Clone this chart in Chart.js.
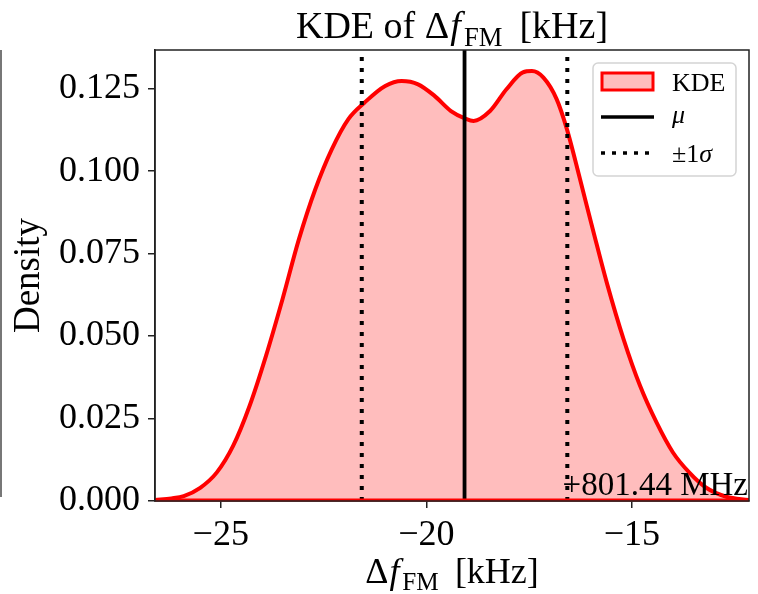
<!DOCTYPE html>
<html>
<head>
<meta charset="utf-8">
<script src="https://cdn.jsdelivr.net/npm/chart.js@4.4.1/dist/chart.umd.min.js"></script>
<style>
  html, body { margin: 0; padding: 0; background: #fff; }
  #contenedor { width: 758px; height: 594px; }
</style>
</head>
<body>
<div id="contenedor"><canvas id="grafico"></canvas></div>
<script>
// valores (kHz, relativos a 801.44 MHz)
const frecuencias = [-26.6, -26.2, -25.9, -25.5, -25.1, -24.7, -24.3, -23.9, -23.5, -23.1, -22.7, -22.3,
  -21.9, -21.5, -21.0, -20.6, -20.2, -19.8, -19.4, -19.05, -18.85, -18.45, -18.05, -17.65, -17.43,
  -17.15, -16.83, -16.58, -16.26, -15.93, -15.61, -15.2, -14.8, -14.4, -14.0, -13.6, -13.2, -12.7, -12.15];
const densidades = [0.0003, 0.0008, 0.0015, 0.004, 0.0086, 0.0167, 0.0288, 0.044, 0.0611, 0.0793, 0.0945, 0.1066,
  0.1157, 0.1208, 0.1258, 0.1273, 0.1263, 0.1228, 0.1182, 0.1159, 0.1152, 0.1182, 0.1248, 0.1299, 0.1303,
  0.1283, 0.1218, 0.1127, 0.0975, 0.0814, 0.0662, 0.049, 0.0349, 0.0238, 0.0147, 0.0086, 0.0041, 0.0013, 0.0003];
const media = -19.07;
const sigma = 2.5;
const ticksX = [-25, -20, -15];
const ticksY = [0, 0.025, 0.05, 0.075, 0.1, 0.125];
const limitesX = [-26.6, -12.15];
const limitesY = [0, 0.1367];
const textoOffset = "+801.44 MHz";

const FUENTE = "'Liberation Serif', 'DejaVu Serif', serif";

function lineaVertical(x) {
  return [{ x: x, y: limitesY[0] }, { x: x, y: limitesY[1] }];
}

// texto tipo latex: Δ f_FM [kHz]
function dibujarSegmentos(ctx, segmentos, cx, base, size) {
  let total = 0;
  const medidas = segmentos.map(function (s) {
    const tam = s.sub ? size * 0.7 : size;
    ctx.font = (s.italic ? "italic " : "") + tam + "px " + FUENTE;
    const w = ctx.measureText(s.t).width + (s.gap || 0) * size;
    total += w;
    return w;
  });
  let x = cx - total / 2;
  ctx.textAlign = "left";
  ctx.textBaseline = "alphabetic";
  segmentos.forEach(function (s, i) {
    const tam = s.sub ? size * 0.7 : size;
    ctx.font = (s.italic ? "italic " : "") + tam + "px " + FUENTE;
    ctx.fillText(s.t, x + (s.gap || 0) * size, base + (s.sub ? size * 0.2 : 0));
    x += medidas[i];
  });
}

const etiquetaDelta = [
  { t: "\u0394" },
  { t: "f", italic: true, gap: 0.03 },
  { t: "FM", sub: true, gap: 0.08 },
  { t: "[kHz]", gap: 0.45 },
];

function dibujarLeyenda(ctx, area) {
  const w = 143, h = 113;
  const x0 = area.right - 13 - w;
  const y0 = area.top + 13;
  ctx.save();
  ctx.fillStyle = "rgba(255,255,255,0.8)";
  ctx.strokeStyle = "#d4d4d4";
  ctx.lineWidth = 1.5;
  ctx.beginPath();
  ctx.roundRect(x0, y0, w, h, 5);
  ctx.fill();
  ctx.stroke();

  // KDE (parche)
  ctx.fillStyle = "rgba(255,0,0,0.26)";
  ctx.fillRect(x0 + 9, y0 + 10, 51, 17);
  ctx.strokeStyle = "red";
  ctx.lineWidth = 3;
  ctx.strokeRect(x0 + 9, y0 + 10, 51, 17);

  // mu
  ctx.strokeStyle = "black";
  ctx.lineWidth = 3.5;
  ctx.beginPath();
  ctx.moveTo(x0 + 8, y0 + 54);
  ctx.lineTo(x0 + 61, y0 + 54);
  ctx.stroke();

  // sigma
  ctx.setLineDash([4, 7]);
  ctx.beginPath();
  ctx.moveTo(x0 + 8, y0 + 90);
  ctx.lineTo(x0 + 61, y0 + 90);
  ctx.stroke();
  ctx.setLineDash([]);

  ctx.fillStyle = "black";
  ctx.textAlign = "left";
  ctx.textBaseline = "alphabetic";
  ctx.font = "26px " + FUENTE;
  ctx.fillText("KDE", x0 + 79, y0 + 28);
  ctx.font = "italic 26px " + FUENTE;
  ctx.fillText("\u03bc", x0 + 79, y0 + 60);
  ctx.font = "26px " + FUENTE;
  ctx.fillText("\u00b11", x0 + 79, y0 + 99);
  const wpm = ctx.measureText("\u00b11").width;
  ctx.font = "italic 26px " + FUENTE;
  ctx.fillText("\u03c3", x0 + 79 + wpm, y0 + 99);
  ctx.restore();
}

const extras = {
  id: "extras",
  afterDatasetsDraw: function (chart) {
    // borde rojo del relleno sobre la base
    const ctx = chart.ctx;
    const area = chart.chartArea;
    ctx.save();
    ctx.strokeStyle = "red";
    ctx.lineWidth = 3;
    ctx.beginPath();
    ctx.moveTo(area.left, area.bottom - 1);
    ctx.lineTo(area.right, area.bottom - 1);
    ctx.stroke();
    ctx.restore();
  },
  afterDraw: function (chart) {
    const ctx = chart.ctx;
    const area = chart.chartArea;
    const cx = (area.left + area.right) / 2;
    ctx.save();

    // marco completo
    ctx.strokeStyle = "#222";
    ctx.lineWidth = 1.5;
    ctx.strokeRect(area.left, area.top, area.right - area.left, area.bottom - area.top);

    // resto de otra figura a la izquierda
    ctx.strokeStyle = "#777";
    ctx.lineWidth = 2;
    ctx.beginPath();
    ctx.moveTo(1, area.top);
    ctx.lineTo(1, area.bottom - 4);
    ctx.stroke();

    ctx.fillStyle = "black";
    // titulo
    dibujarSegmentos(ctx, [{ t: "KDE of" }].concat(etiquetaDelta.map(function (s, i) {
      return i === 0 ? { t: s.t, gap: 0.25 } : s;
    })), cx, 38, 38);
    // eje x
    dibujarSegmentos(ctx, etiquetaDelta, cx, 583, 36);

    // eje y
    ctx.save();
    ctx.translate(29, (area.top + area.bottom) / 2);
    ctx.rotate(-Math.PI / 2);
    ctx.font = "37px " + FUENTE;
    ctx.textAlign = "center";
    ctx.textBaseline = "middle";
    ctx.fillText("Density", 0, 0);
    ctx.restore();

    // offset
    ctx.font = "33px " + FUENTE;
    ctx.textAlign = "right";
    ctx.textBaseline = "alphabetic";
    ctx.fillText(textoOffset, area.right - 1, area.bottom - 6);

    dibujarLeyenda(ctx, area);
    ctx.restore();
  },
};

function formatoX(v) {
  return v < 0 ? "\u2212" + Math.abs(v) : String(v);
}

const config = {
  type: "line",
  data: {
    datasets: [
      {
        label: "mu",
        data: lineaVertical(media),
        borderColor: "black",
        borderWidth: 3.8,
        pointRadius: 0,
        fill: false,
        order: 1,
      },
      {
        label: "-sigma",
        data: lineaVertical(media - sigma),
        borderColor: "black",
        borderWidth: 4,
        borderDash: [4, 7],
        pointRadius: 0,
        fill: false,
        order: 1,
      },
      {
        label: "+sigma",
        data: lineaVertical(media + sigma),
        borderColor: "black",
        borderWidth: 4,
        borderDash: [4, 7],
        pointRadius: 0,
        fill: false,
        order: 1,
      },
      {
        label: "KDE",
        data: frecuencias.map(function (f, i) { return { x: f, y: densidades[i] }; }),
        borderColor: "red",
        borderWidth: 4,
        backgroundColor: "rgba(255,0,0,0.26)",
        fill: "origin",
        pointRadius: 0,
        cubicInterpolationMode: "monotone",
        order: 2,
      },
    ],
  },
  options: {
    responsive: true,
    maintainAspectRatio: false,
    animation: false,
    devicePixelRatio: 1,
    layout: { padding: { top: 50, right: 9, left: 0, bottom: 0 } },
    plugins: {
      legend: { display: false },
      title: { display: false },
      tooltip: { enabled: false },
    },
    scales: {
      x: {
        type: "linear",
        min: limitesX[0],
        max: limitesX[1],
        afterBuildTicks: function (s) { s.ticks = ticksX.map(function (v) { return { value: v }; }); },
        afterFit: function (s) { s.height = 93; },
        ticks: {
          callback: formatoX,
          color: "black",
          font: { family: FUENTE, size: 36 },
          padding: 6,
          maxRotation: 0,
        },
        grid: { drawOnChartArea: false, drawTicks: true, tickLength: 7, color: "#222", lineWidth: 1.5 },
        border: { display: true, color: "#222", width: 1.5 },
      },
      y: {
        min: limitesY[0],
        max: limitesY[1],
        afterBuildTicks: function (s) { s.ticks = ticksY.map(function (v) { return { value: v }; }); },
        afterFit: function (s) { s.width = 155; },
        ticks: {
          callback: function (v) { return v.toFixed(3); },
          color: "black",
          font: { family: FUENTE, size: 36 },
          padding: 8,
        },
        grid: { drawOnChartArea: false, drawTicks: true, tickLength: 7, color: "#222", lineWidth: 1.5 },
        border: { display: true, color: "#222", width: 1.5 },
      },
    },
  },
  plugins: [extras],
};

new Chart(document.getElementById("grafico"), config);
</script>
</body>
</html>
